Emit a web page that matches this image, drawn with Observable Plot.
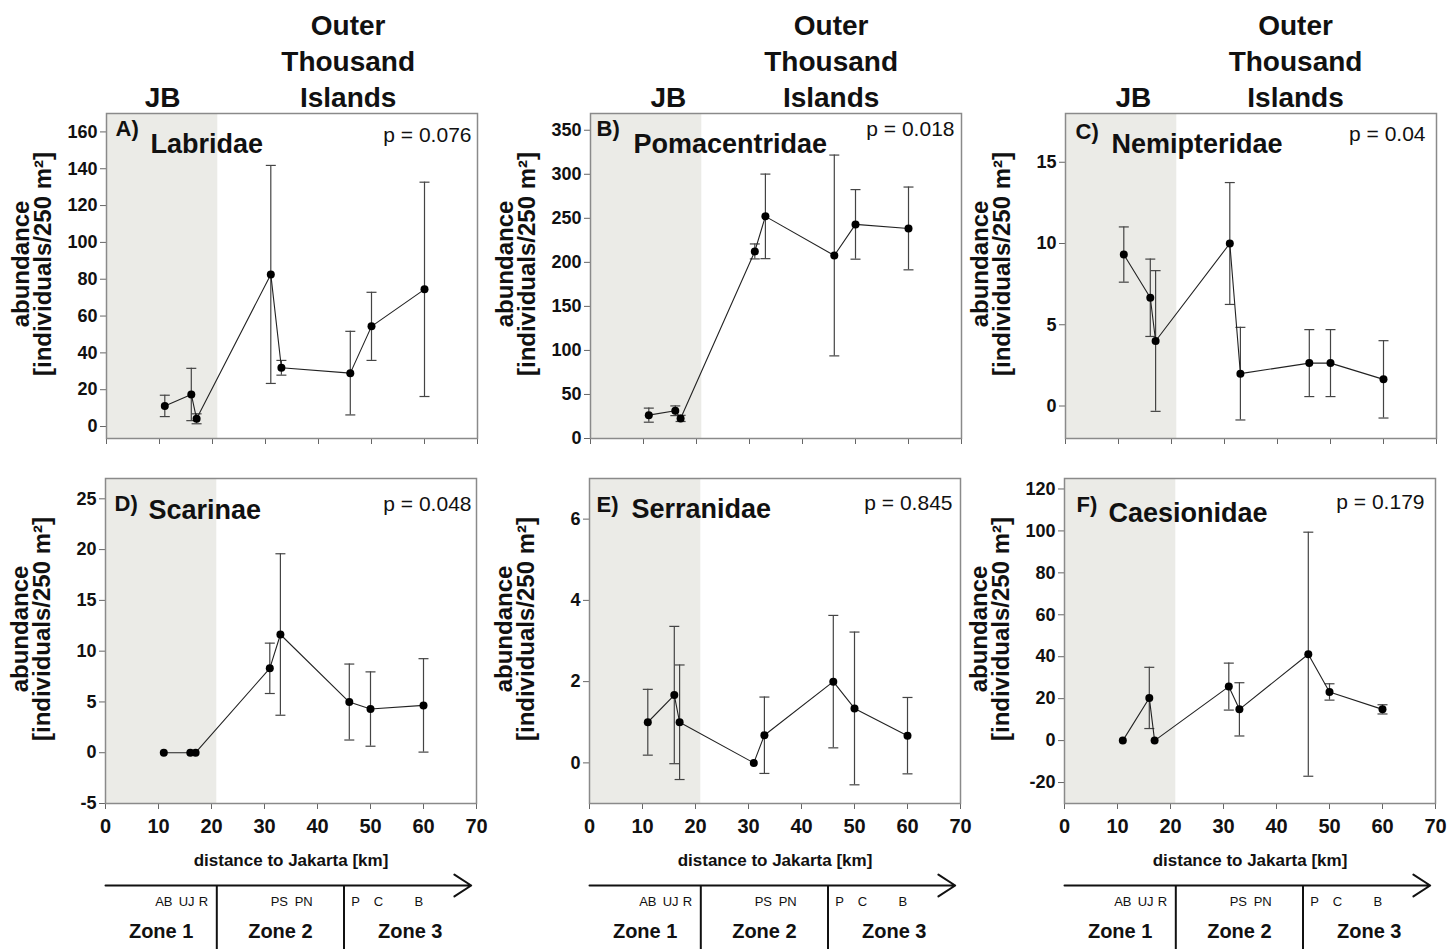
<!DOCTYPE html>
<html><head><meta charset="utf-8">
<script src="https://cdn.jsdelivr.net/npm/d3@7"></script>
<script src="https://cdn.jsdelivr.net/npm/@observablehq/plot@0.6"></script>
<style>
body{margin:0;background:#fff;}
#fig{position:relative;width:1456px;height:949px;overflow:hidden;font-family:"Liberation Sans",Arial,sans-serif;}
#fig > div{position:absolute;}
</style></head><body><div id="fig"></div>
<script>
// ---------- data ----------
const distanceKm = [11, 16, 17, 31, 33, 46, 50, 60];
const siteCodes = ["AB", "UJ", "R", "PS", "PN", "P", "C", "B"];
const zoneNames = ["Zone 1", "Zone 2", "Zone 3"];
const zoneBoundsKm = [0, 21, 45, 70];
const xTicks = [0, 10, 20, 30, 40, 50, 60, 70];
const regionNames = ["JB", "Outer\nThousand\nIslands"];
const xAxisTitle = "distance to Jakarta [km]";
const yAxisTitle = "abundance\n[individuals/250 m²]";

const labridaeMean = [11.2, 17.4, 4.2, 82.6, 31.9, 29.0, 54.4, 74.5];
const labridaeSE   = [5.8, 14.2, 2.7, 59.2, 4.0, 22.7, 18.5, 58.2];
const labridaeTicks = [0, 20, 40, 60, 80, 100, 120, 140, 160];

const pomacentridaeMean = [26.5, 31.5, 22.8, 212.4, 252.2, 207.8, 243.1, 238.5];
const pomacentridaeSE   = [8.0, 5.5, 3.5, 8.5, 48.0, 114.0, 39.5, 47.0];
const pomacentridaeTicks = [0, 50, 100, 150, 200, 250, 300, 350];

const nemipteridaeMean = [9.32, 6.66, 4.0, 10.0, 1.99, 2.64, 2.64, 1.64];
const nemipteridaeSE   = [1.7, 2.38, 4.33, 3.75, 2.85, 2.06, 2.06, 2.38];
const nemipteridaeTicks = [0, 5, 10, 15];

const scarinaeMean = [0, 0, 0, 8.31, 11.64, 4.99, 4.30, 4.66];
const scarinaeSE   = [0, 0, 0, 2.48, 7.95, 3.74, 3.66, 4.6];
const scarinaeTicks = [-5, 0, 5, 10, 15, 20, 25];

const serranidaeMean = [1.0, 1.67, 1.0, 0, 0.68, 2.0, 1.34, 0.67];
const serranidaeSE   = [0.81, 1.69, 1.41, 0, 0.94, 1.63, 1.88, 0.94];
const serranidaeTicks = [0, 2, 4, 6];

const caesionidaeMean = [0, 20.35, 0, 25.75, 14.9, 41.2, 23.2, 14.9];
const caesionidaeSE   = [0, 14.6, 0, 11.2, 12.7, 58.2, 3.9, 2.2];
const caesionidaeTicks = [-20, 0, 20, 40, 60, 80, 100, 120];

const panels = [
  {letter: "A)", name: "Labridae", p: "p = 0.076", mean: labridaeMean, se: labridaeSE, ticks: labridaeTicks, domain: [-6.5, 170]},
  {letter: "B)", name: "Pomacentridae", p: "p = 0.018", mean: pomacentridaeMean, se: pomacentridaeSE, ticks: pomacentridaeTicks, domain: [0, 369]},
  {letter: "C)", name: "Nemipteridae", p: "p = 0.04", mean: nemipteridaeMean, se: nemipteridaeSE, ticks: nemipteridaeTicks, domain: [-2, 18]},
  {letter: "D)", name: "Scarinae", p: "p = 0.048", mean: scarinaeMean, se: scarinaeSE, ticks: scarinaeTicks, domain: [-5, 27]},
  {letter: "E)", name: "Serranidae", p: "p = 0.845", mean: serranidaeMean, se: serranidaeSE, ticks: serranidaeTicks, domain: [-1, 7]},
  {letter: "F)", name: "Caesionidae", p: "p = 0.179", mean: caesionidaeMean, se: caesionidaeSE, ticks: caesionidaeTicks, domain: [-30, 125]}
];

// ---------- layout ----------
const FONT = '"Liberation Sans", Arial, Helvetica, sans-serif';
const colLeft = [0, 484, 959];
const frameW = 371, frameH = 325;
const headerKm = [[10.6, 45.6], [14.7, 45.4], [12.8, 43.4]];
const siteLabelShift = [0, -0.7, 1.5, 1.8, 4.4, 1.2, 1.5, -0.9];
// per-panel text placement relative to the frame: [letterDx, letterDy, nameDx, nameDy, pDx, pDy]
const textPos = [
  [9, 22, 44, 39, -6, 28],
  [6, 22, 43, 39, -7, 22],
  [10, 25, 46, 39, -11, 27],
  [9, 32, 43, 40, -5, 32],
  [7, 33, 42, 39, -8, 31],
  [12, 33, 44, 43, -11, 30]
];

const capSymbol = {draw(ctx, size) { const w = Math.sqrt(size / Math.PI); ctx.moveTo(-w, 0); ctx.lineTo(w, 0); }};

const fig = document.getElementById("fig");
function place(svg, left, top) {
  const d = document.createElement("div");
  d.style.left = left + "px"; d.style.top = top + "px";
  d.appendChild(svg); fig.appendChild(d);
}
function styleAxes(svg) {
  const s = d3.select(svg);
  s.selectAll('g[aria-label="y-axis tick"], g[aria-label="x-axis tick"]').attr("stroke", "#666");
  s.selectAll('g[aria-label="x-axis tick label"]').attr("font-size", 20);
  s.selectAll('g[aria-label="y-axis tick label"]').attr("font-size", 18);
}

panels.forEach((cfg, k) => {
  const row = Math.floor(k / 3), col = k % 3;
  const top = row === 0;
  const mL = top ? 106 : 105, mR = 12;
  const mT = top ? 113 : 18, mB = top ? 22 : 70;
  const data = distanceKm.map((x, i) => ({x, y: cfg.mean[i], e: cfg.se[i]}));
  const bars = data.filter(d => d.e > 0);
  const tp = textPos[k];
  const marks = [
    Plot.rect([0], {x1: zoneBoundsKm[0], x2: zoneBoundsKm[1], fill: "#ebebe7"}),
    Plot.ruleX(bars, {x: "x", y1: d => d.y - d.e, y2: d => d.y + d.e, stroke: "#444", strokeWidth: 1.2}),
    Plot.dot(bars, {x: "x", y: d => d.y + d.e, symbol: capSymbol, r: 5, fill: "none", stroke: "#444", strokeWidth: 1.2}),
    Plot.dot(bars, {x: "x", y: d => d.y - d.e, symbol: capSymbol, r: 5, fill: "none", stroke: "#444", strokeWidth: 1.2}),
    Plot.line(data, {x: "x", y: "y", stroke: "#222", strokeWidth: 1.1}),
    Plot.dot(data, {x: "x", y: "y", r: 4, fill: "#000"}),
    Plot.frame({stroke: "#8a8a8a", strokeWidth: 1.5}),
    Plot.text([cfg.letter], {text: d => d, frameAnchor: "top-left", dx: tp[0], dy: tp[1], lineAnchor: "bottom", textAnchor: "start", fontSize: 22, fontWeight: "bold", fill: "#111"}),
    Plot.text([cfg.name], {text: d => d, frameAnchor: "top-left", dx: tp[2], dy: tp[3], lineAnchor: "bottom", textAnchor: "start", fontSize: 27, fontWeight: "bold", fill: "#111"}),
    Plot.text([cfg.p], {text: d => d, frameAnchor: "top-right", dx: tp[4], dy: tp[5], lineAnchor: "bottom", textAnchor: "end", fontSize: 21, fontWeight: "normal", fill: "#111"}),
    Plot.text([yAxisTitle], {text: d => d, frameAnchor: "left", rotate: -90, dx: -74, dy: -12, lineAnchor: "middle", textAnchor: "middle", fontSize: 24, fontWeight: "bold", lineHeight: 0.92, fill: "#111"})
  ];
  if (top) {
    marks.push(Plot.text(regionNames, {x: (d, i) => headerKm[col][i], text: d => d, frameAnchor: "top", dy: -7, lineAnchor: "bottom", fontSize: 28, fontWeight: "bold", lineHeight: 1.27, fill: "#111"}));
  } else {
    marks.push(Plot.text([xAxisTitle], {text: d => d, frameAnchor: "bottom", dy: 62, lineAnchor: "bottom", fontSize: 17, fontWeight: "bold", fill: "#111"}));
  }
  const svg = Plot.plot({
    width: mL + frameW + mR, height: mT + frameH + mB,
    marginLeft: mL, marginRight: mR, marginTop: mT, marginBottom: mB,
    style: {fontFamily: FONT, fontSize: "18px", fontWeight: "bold", background: "transparent", overflow: "visible", color: "#111"},
    x: {domain: [0, 70], ticks: xTicks, tickSize: 6, tickPadding: 9, label: null, tickFormat: top ? () => "" : d => String(d)},
    y: {domain: cfg.domain, ticks: cfg.ticks, tickSize: 6, tickPadding: 3, label: null, tickFormat: d => String(d)},
    marks
  });
  styleAxes(svg);
  place(svg, colLeft[col], top ? 0 : 460);

  if (!top) {
    const zsvg = Plot.plot({
      width: mL + frameW + mR, height: 76,
      marginLeft: mL, marginRight: mR, marginTop: 12, marginBottom: 0,
      style: {fontFamily: FONT, background: "transparent", overflow: "visible", color: "#111"},
      x: {domain: [0, 70], axis: null},
      y: {domain: [0, 1], axis: null},
      marks: [
        Plot.arrow([0], {x1: zoneBoundsKm[0], x2: 69, y1: 1, y2: 1, stroke: "#111", strokeWidth: 2, headLength: 15, headAngle: 66}),
        Plot.ruleX(zoneBoundsKm.slice(1, 3), {stroke: "#111", strokeWidth: 2}),
        Plot.text(siteCodes, {x: (d, i) => distanceKm[i] + siteLabelShift[i], text: d => d, frameAnchor: "top", dy: 20, lineAnchor: "bottom", fontSize: 13, fill: "#111"}),
        Plot.text(zoneNames, {x: (d, i) => (zoneBoundsKm[i] + zoneBoundsKm[i + 1]) / 2, text: d => d, frameAnchor: "top", dy: 52, lineAnchor: "bottom", fontSize: 20, fontWeight: "bold", fill: "#111"})
      ]
    });
    place(zsvg, colLeft[col], 873);
  }
});
</script></body></html>
